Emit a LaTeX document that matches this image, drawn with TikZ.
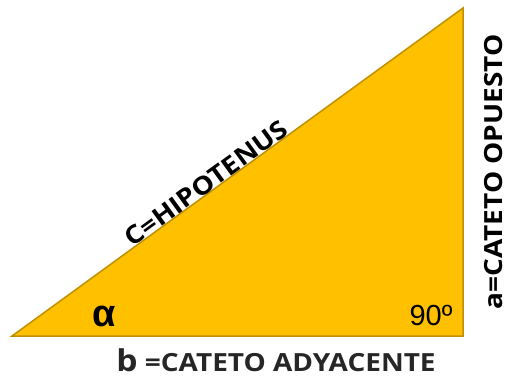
\documentclass[tikz,border=0pt]{standalone}
\usepackage{fontspec}
\setmainfont{Carlito}
\newfontfamily\legfont[FakeStretch=1.12]{Open Sans}
\newfontfamily\arialfont{Liberation Sans}
\usetikzlibrary{calc, positioning}
\definecolor{legYellow}{HTML}{FFC000}
\definecolor{legEdge}{HTML}{BF9000}
\definecolor{inkBlack}{HTML}{000000}
\definecolor{inkDark}{HTML}{262626}
\tikzset{
  tri/.style   = {draw=legEdge, fill=legYellow, line width=1.5pt, line join=miter},
  side/.style  = {font=\legfont\fontsize{25}{27}\selectfont\bfseries, text=inkBlack, inner sep=1pt},
  base/.style  = {font=\legfont\fontsize{25}{27}\selectfont\bfseries, text=inkDark, inner sep=0pt},
  ang/.style   = {text=inkBlack, inner sep=0pt}
}

\begin{document}
\begin{tikzpicture}[x=1pt, y=-1pt]
  \useasboundingbox (0,0) rectangle (509,381);
  \coordinate (A) at (12,336);
  \coordinate (B) at (463,336);
  \coordinate (C) at (463,8);
  \draw[tri] (A) -- (B) -- (C) -- cycle;
  % labels of the sides
  \path (A) -- node[side, pos=0.443, sloped, above, inner sep=0pt] (hyp) {C=HIPOTENUS} (C);
  \node[side, rotate=90, anchor=north, inner sep=0pt] (opp) at ($(B)!0.5!(C)+(21,0)$) {a=CATETO OPUESTO};
  \node[base, anchor=base] (ady) at (276,371) {{\fontsize{30}{32}\selectfont b} =CATETO ADYACENTE};
  % angles
  \node[ang, font=\arialfont\fontsize{38}{40}\selectfont\bfseries] (alpha) at (104,316) {α};
  \node[ang, font=\arialfont\fontsize{29}{30}\selectfont] (right) at (431,315) {90º};
\end{tikzpicture}
\end{document}
